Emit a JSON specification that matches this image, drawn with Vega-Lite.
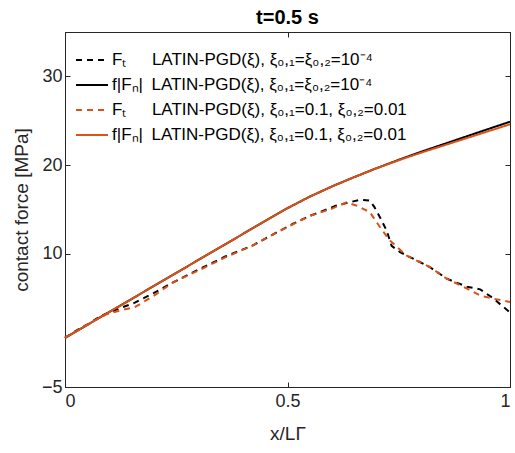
{
  "$schema": "https://vega.github.io/schema/vega-lite/v6.json",
  "width": 445,
  "height": 355,
  "autosize": {"type": "none"},
  "padding": {"left": 65, "top": 32, "right": 5, "bottom": 66},
  "background": "white",
  "title": {"text": "t=0.5 s", "fontSize": 20, "fontWeight": "bold", "font": "Liberation Sans", "color": "#000000", "offset": 4},
  "config": {
    "view": {"stroke": "#262626", "strokeWidth": 1},
    "axis": {"grid": false, "labelFont": "Liberation Sans", "titleFont": "Liberation Sans", "labelFontSize": 18, "titleFontSize": 19, "titleFontWeight": "normal", "labelColor": "#262626", "titleColor": "#262626", "domainColor": "#262626", "tickColor": "#262626", "tickSize": -5, "labelPadding": 8}
  },
  "data": {"values": [
    {"s": "F1", "x": 0, "y": 0.53}, {"s": "F1", "x": 0.03, "y": 1.5}, {"s": "F1", "x": 0.056, "y": 2.2}, {"s": "F1", "x": 0.08, "y": 3.0}, {"s": "F1", "x": 0.1, "y": 3.4}, {"s": "F1", "x": 0.13, "y": 4.0}, {"s": "F1", "x": 0.157, "y": 4.5}, {"s": "F1", "x": 0.2, "y": 5.6}, {"s": "F1", "x": 0.243, "y": 6.8}, {"s": "F1", "x": 0.303, "y": 8.3}, {"s": "F1", "x": 0.36, "y": 9.7}, {"s": "F1", "x": 0.42, "y": 10.9}, {"s": "F1", "x": 0.479, "y": 12.5}, {"s": "F1", "x": 0.513, "y": 13.4}, {"s": "F1", "x": 0.551, "y": 14.3}, {"s": "F1", "x": 0.573, "y": 14.7}, {"s": "F1", "x": 0.607, "y": 15.4}, {"s": "F1", "x": 0.663, "y": 16.1}, {"s": "F1", "x": 0.685, "y": 16.0}, {"s": "F1", "x": 0.695, "y": 15.3}, {"s": "F1", "x": 0.708, "y": 14.1}, {"s": "F1", "x": 0.723, "y": 12.6}, {"s": "F1", "x": 0.734, "y": 10.9}, {"s": "F1", "x": 0.753, "y": 10.2}, {"s": "F1", "x": 0.82, "y": 8.5}, {"s": "F1", "x": 0.858, "y": 7.2}, {"s": "F1", "x": 0.903, "y": 6.3}, {"s": "F1", "x": 0.933, "y": 6.0}, {"s": "F1", "x": 0.962, "y": 5.0}, {"s": "F1", "x": 1.0, "y": 3.4},
    {"s": "N1", "x": 0, "y": 0.53}, {"s": "N1", "x": 0.05, "y": 2.0}, {"s": "N1", "x": 0.1, "y": 3.46}, {"s": "N1", "x": 0.15, "y": 4.93}, {"s": "N1", "x": 0.2, "y": 6.39}, {"s": "N1", "x": 0.25, "y": 7.86}, {"s": "N1", "x": 0.3, "y": 9.32}, {"s": "N1", "x": 0.35, "y": 10.79}, {"s": "N1", "x": 0.4, "y": 12.25}, {"s": "N1", "x": 0.45, "y": 13.72}, {"s": "N1", "x": 0.5, "y": 15.15}, {"s": "N1", "x": 0.55, "y": 16.45}, {"s": "N1", "x": 0.6, "y": 17.6}, {"s": "N1", "x": 0.65, "y": 18.65}, {"s": "N1", "x": 0.7, "y": 19.65}, {"s": "N1", "x": 0.75, "y": 20.6}, {"s": "N1", "x": 0.8, "y": 21.5}, {"s": "N1", "x": 0.85, "y": 22.35}, {"s": "N1", "x": 0.9, "y": 23.2}, {"s": "N1", "x": 0.95, "y": 24.05}, {"s": "N1", "x": 1.0, "y": 24.89},
    {"s": "F2", "x": 0, "y": 0.53}, {"s": "F2", "x": 0.056, "y": 2.2}, {"s": "F2", "x": 0.094, "y": 3.2}, {"s": "F2", "x": 0.13, "y": 3.7}, {"s": "F2", "x": 0.157, "y": 4.0}, {"s": "F2", "x": 0.2, "y": 5.3}, {"s": "F2", "x": 0.243, "y": 6.8}, {"s": "F2", "x": 0.303, "y": 8.2}, {"s": "F2", "x": 0.36, "y": 9.6}, {"s": "F2", "x": 0.42, "y": 10.9}, {"s": "F2", "x": 0.483, "y": 12.6}, {"s": "F2", "x": 0.551, "y": 14.3}, {"s": "F2", "x": 0.6, "y": 15.1}, {"s": "F2", "x": 0.633, "y": 15.8}, {"s": "F2", "x": 0.656, "y": 15.43}, {"s": "F2", "x": 0.685, "y": 14.7}, {"s": "F2", "x": 0.708, "y": 13.0}, {"s": "F2", "x": 0.73, "y": 11.5}, {"s": "F2", "x": 0.768, "y": 9.8}, {"s": "F2", "x": 0.82, "y": 8.5}, {"s": "F2", "x": 0.858, "y": 7.2}, {"s": "F2", "x": 0.903, "y": 6.1}, {"s": "F2", "x": 0.933, "y": 5.3}, {"s": "F2", "x": 0.962, "y": 4.96}, {"s": "F2", "x": 1.0, "y": 4.57},
    {"s": "N2", "x": 0, "y": 0.53}, {"s": "N2", "x": 0.05, "y": 2.0}, {"s": "N2", "x": 0.1, "y": 3.46}, {"s": "N2", "x": 0.15, "y": 4.93}, {"s": "N2", "x": 0.2, "y": 6.39}, {"s": "N2", "x": 0.25, "y": 7.86}, {"s": "N2", "x": 0.3, "y": 9.32}, {"s": "N2", "x": 0.35, "y": 10.79}, {"s": "N2", "x": 0.4, "y": 12.25}, {"s": "N2", "x": 0.45, "y": 13.72}, {"s": "N2", "x": 0.5, "y": 15.15}, {"s": "N2", "x": 0.55, "y": 16.45}, {"s": "N2", "x": 0.6, "y": 17.6}, {"s": "N2", "x": 0.65, "y": 18.65}, {"s": "N2", "x": 0.7, "y": 19.65}, {"s": "N2", "x": 0.75, "y": 20.55}, {"s": "N2", "x": 0.8, "y": 21.4}, {"s": "N2", "x": 0.85, "y": 22.2}, {"s": "N2", "x": 0.9, "y": 23.0}, {"s": "N2", "x": 0.95, "y": 23.8}, {"s": "N2", "x": 1.0, "y": 24.6}
  ]},
  "layer": [
    {
      "mark": {"type": "line", "strokeWidth": 2},
      "encoding": {
        "x": {"field": "x", "type": "quantitative", "scale": {"domain": [0, 1], "nice": false}, "axis": {"values": [0, 0.5, 1], "format": "~g", "title": "x/LΓ", "titlePadding": 14, "labelPadding": 10}},
        "y": {"field": "y", "type": "quantitative", "scale": {"domain": [-5, 35], "nice": false, "zero": false}, "axis": {"values": [-5, 10, 20, 30], "title": "contact force [MPa]", "titlePadding": 10}},
        "color": {"field": "s", "type": "nominal", "scale": {"domain": ["F1", "N1", "F2", "N2"], "range": ["#000000", "#000000", "#D95319", "#D95319"]},
          "legend": {"orient": "none", "legendX": 10, "legendY": 11, "title": null, "symbolType": "stroke", "symbolSize": 1024, "symbolStrokeWidth": 2, "labelFontSize": 17, "labelFont": "Liberation Sans", "labelColor": "#000000", "rowPadding": -5, "labelOffset": 3, "labelLimit": 400,
            "labelExpr": "datum.label == 'F1' ? 'Fₜ\u2002\u2002\u2002LATIN-PGD(ξ), ξ₀,₁=ξ₀,₂=10⁻⁴' : datum.label == 'N1' ? 'f|Fₙ|\u2002LATIN-PGD(ξ), ξ₀,₁=ξ₀,₂=10⁻⁴' : datum.label == 'F2' ? 'Fₜ\u2002\u2002\u2002LATIN-PGD(ξ), ξ₀,₁=0.1, ξ₀,₂=0.01' : 'f|Fₙ|\u2002LATIN-PGD(ξ), ξ₀,₁=0.1, ξ₀,₂=0.01'"}},
        "strokeDash": {"field": "s", "type": "nominal", "scale": {"domain": ["F1", "N1", "F2", "N2"], "range": [[6, 5], [1, 0], [6, 5], [1, 0]]}}
      }
    },
    {
      "mark": {"type": "line", "strokeOpacity": 0},
      "encoding": {
        "x": {"field": "x", "type": "quantitative", "axis": {"orient": "top", "values": [0, 0.5, 1], "labels": false, "title": null}},
        "y": {"field": "y", "type": "quantitative", "axis": {"orient": "right", "values": [10, 20, 30], "labels": false, "title": null}},
        "detail": {"field": "s"}
      }
    }
  ],
  "resolve": {"axis": {"x": "independent", "y": "independent"}}
}
